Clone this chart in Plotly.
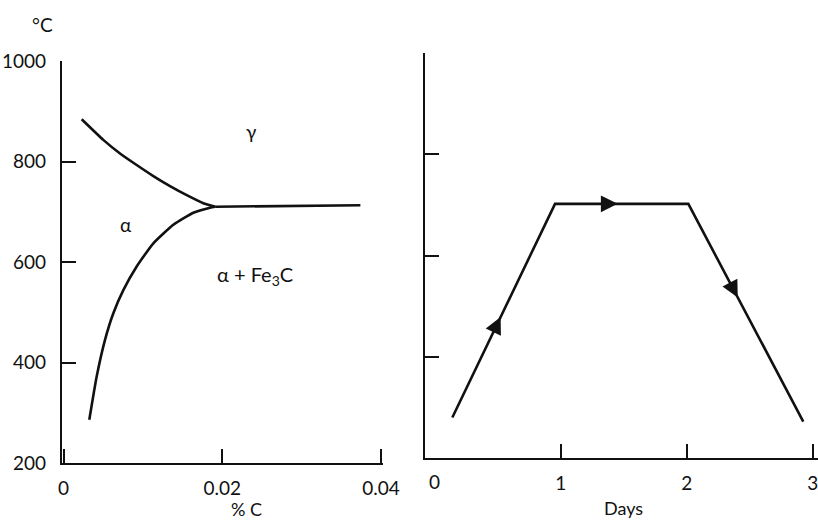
import plotly.graph_objects as go

# ---------------- data ----------------
# Left panel: Fe–C corner of the phase diagram (%C, °C)
upper_c = [0.00228, 0.00500, 0.00711, 0.00921, 0.01131, 0.01341, 0.01552, 0.01761, 0.0191]
upper_t = [884, 843, 816, 793, 771, 751, 733, 717, 710]
lower_c = [0.00324, 0.00417, 0.00522, 0.00627, 0.00753, 0.00921, 0.01131, 0.01383,
           0.01635, 0.01845, 0.0191]
lower_t = [286, 372, 445, 498, 544, 591, 637, 674, 698, 708, 710]
eut_c = [0.0191, 0.0374]
eut_t = [710, 713]

left_yticks = [200, 400, 600, 800, 1000]
left_xticks = [0, 0.02, 0.04]
left_xtext = ["0", "0.02", "0.04"]

# Right panel: heat-treatment schedule (days, °C)
days = [0.14, 0.955, 2.013, 2.925]
temp = [280, 702, 702, 272]
right_xticks = [1, 2, 3]
right_xtext = ["1", "2", "3"]
right_yticks = [400, 600, 800, 1000]
arrow_frac = [0.47, 0.47, 0.43]   # position of arrow on each segment

# ---------------- figure ----------------
W, H = 818, 522
INK = "#111111"
FONT = "Lato"

def px(x):
    return x / W

def py(y):
    return 1 - y / H

fig = go.Figure()

for xs, ys in [(upper_c, upper_t), (lower_c, lower_t), (eut_c, eut_t)]:
    fig.add_trace(go.Scatter(x=xs, y=ys, mode="lines",
                             line=dict(color=INK, width=2.6, shape="spline", smoothing=0.5),
                             xaxis="x", yaxis="y", hoverinfo="skip", showlegend=False))

fig.add_trace(go.Scatter(x=days, y=temp, mode="lines",
                         line=dict(color=INK, width=2.6),
                         xaxis="x2", yaxis="y2", hoverinfo="skip", showlegend=False))

axis_common = dict(showline=True, linewidth=2.2, linecolor=INK, showgrid=False,
                   zeroline=False, ticks="inside", ticklen=14, tickwidth=2,
                   tickcolor=INK, automargin=False, ticklabeloverflow="allow",
                   tickfont=dict(family=FONT, size=19, color=INK))

fig.update_layout(
    width=W, height=H, autosize=False,
    margin=dict(l=0, r=0, t=0, b=0, pad=0),
    paper_bgcolor="white", plot_bgcolor="rgba(0,0,0,0)",
    xaxis=dict(domain=[px(62), px(383)], range=[-0.0002, 0.04025], anchor="y",
               tickvals=left_xticks, ticktext=left_xtext, ticklabelstandoff=7,
               **axis_common),
    yaxis=dict(domain=[py(463), py(61)], range=[200, 1000], anchor="x",
               tickvals=left_yticks, ticklabelstandoff=10, **axis_common),
    xaxis2=dict(domain=[px(425), 1.0], range=[-0.077, 3.042], anchor="y2",
                tickvals=right_xticks, ticktext=right_xtext, ticklabelstandoff=7,
                **axis_common),
    yaxis2=dict(domain=[py(458), py(53)], range=[200, 1000], anchor="x2",
                tickvals=right_yticks, showticklabels=False, **axis_common),
)

ann = []
txt = dict(family=FONT, size=19, color=INK)
c = dict(xanchor="center", yanchor="middle", showarrow=False)
ann.append(dict(x=px(42), y=py(25), xref="paper", yref="paper", text="°C", font=txt, **c))
ann.append(dict(x=px(247), y=py(509), xref="paper", yref="paper", text="% C",
                font=dict(family=FONT, size=18, color=INK), **c))
ann.append(dict(x=px(623), y=py(508), xref="paper", yref="paper", text="Days",
                font=dict(family=FONT, size=18, color=INK), **c))
ann.append(dict(x=0, y=py(481), xref="x2", yref="paper", text="0", font=txt, **c))
ann.append(dict(x=0.0237, y=859, xref="x", yref="y", text="γ", font=txt, **c))
ann.append(dict(x=0.0079, y=674, xref="x", yref="y", text="α", font=txt, **c))
ann.append(dict(x=0.0241, y=574, xref="x", yref="y", text="α + Fe<sub>3</sub>C",
                font=dict(family=FONT, size=20, color=INK), **c))

# direction arrows along schedule segments
for i, f in enumerate(arrow_frac):
    x0, y0, x1, y1 = days[i], temp[i], days[i + 1], temp[i + 1]
    tx, ty = x0 + f * (x1 - x0), y0 + f * (y1 - y0)
    bx, by = x0 + (f - 0.06) * (x1 - x0), y0 + (f - 0.06) * (y1 - y0)
    ann.append(dict(x=tx, y=ty, ax=bx, ay=by, xref="x2", yref="y2", axref="x2", ayref="y2",
                    text="", showarrow=True, arrowhead=2, arrowsize=1.4, arrowwidth=2.4,
                    arrowcolor=INK))

fig.update_layout(annotations=ann)
fig.write_html("out.html", config={"displayModeBar": False},
               post_script="document.body.style.margin='0';document.body.style.overflow='hidden';")
